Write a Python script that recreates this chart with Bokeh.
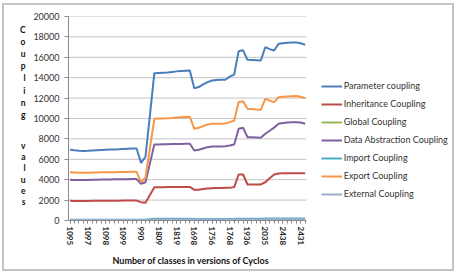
import math
from bokeh.plotting import figure
from bokeh.models import (Range1d, FixedTicker, Legend, LegendItem, LinearAxis,
                          Title)
from bokeh.embed import file_html
from bokeh.resources import INLINE

# ---------------- data ----------------
tick_labels = ["1095", "1097", "1098", "1099", "990", "1809", "1819",
               "1698", "1756", "1768", "1936", "2035", "2438", "2431"]
label_every = 4
n_versions = 54
y_ticks = list(range(0, 20001, 2000))

parameter = [6930, 6880, 6840, 6810, 6830, 6860, 6890, 6910, 6930, 6950,
             6960, 6980, 7010, 7040, 7060, 7060, 5650, 6250, 10300, 14440,
             14460, 14480, 14500, 14560, 14620, 14650, 14680, 14700, 12970, 13080,
             13350, 13560, 13730, 13780, 13790, 13800, 14100, 14300, 16600, 16700,
             15750, 15730, 15710, 15690, 16990, 16800, 16670, 17320, 17380, 17420,
             17450, 17450, 17380, 17230]
inheritance = [1930, 1920, 1910, 1910, 1920, 1930, 1930, 1930, 1940, 1940,
               1940, 1940, 1950, 1950, 1950, 1950, 1800, 1740, 2500, 3270,
               3270, 3270, 3275, 3280, 3280, 3285, 3290, 3290, 3010, 3010,
               3080, 3140, 3170, 3180, 3190, 3200, 3200, 3280, 4510, 4510,
               3530, 3530, 3530, 3540, 3750, 4150, 4510, 4600, 4640, 4640,
               4640, 4640, 4640, 4640]
global_c = [30, 30, 30, 30, 30, 30, 30, 30, 30, 30,
            30, 30, 30, 30, 30, 30, 25, 25, 40, 50,
            50, 50, 50, 50, 50, 50, 50, 50, 50, 50,
            50, 50, 50, 50, 50, 50, 50, 50, 55, 55,
            55, 55, 55, 55, 55, 55, 55, 60, 60, 60,
            60, 60, 60, 60]
data_abstraction = [3990, 3980, 3970, 3960, 3970, 3990, 4000, 4010, 4020, 4030,
                    4040, 4040, 4050, 4050, 4060, 4060, 3600, 3750, 5600, 7450,
                    7460, 7470, 7480, 7490, 7500, 7510, 7520, 7520, 6860, 6930,
                    7060, 7190, 7250, 7250, 7250, 7270, 7350, 7450, 8990, 9090,
                    8170, 8150, 8130, 8110, 8500, 8800, 9100, 9480, 9560, 9600,
                    9640, 9640, 9600, 9480]
import_c = [80, 80, 80, 80, 80, 80, 80, 80, 80, 80,
            80, 80, 80, 80, 80, 80, 70, 75, 120, 160,
            160, 160, 160, 160, 160, 160, 160, 160, 150, 150,
            150, 155, 155, 155, 155, 155, 155, 160, 180, 180,
            175, 175, 175, 175, 185, 190, 195, 200, 200, 200,
            200, 200, 200, 200]
export_c = [4720, 4700, 4680, 4670, 4680, 4700, 4710, 4720, 4730, 4740,
            4740, 4750, 4760, 4760, 4770, 4770, 3760, 4190, 7100, 9970,
            9990, 10010, 10030, 10060, 10100, 10130, 10150, 10170, 8990, 9090,
            9250, 9410, 9480, 9480, 9490, 9500, 9640, 9800, 11600, 11700,
            10950, 10920, 10880, 10850, 11930, 11750, 11600, 12090, 12130, 12160,
            12190, 12200, 12130, 11990]
external = [40, 40, 40, 40, 40, 40, 40, 40, 40, 40,
            40, 40, 40, 40, 40, 40, 35, 35, 70, 100,
            100, 100, 100, 100, 100, 100, 100, 100, 95, 95,
            95, 95, 95, 95, 95, 95, 95, 100, 110, 110,
            105, 105, 105, 105, 110, 115, 120, 125, 125, 125,
            125, 125, 125, 125]

series_names = ["Parameter coupling", "Inheritance Coupling", "Global Coupling",
                "Data Abstraction Coupling", "Import Coupling", "Export Coupling",
                "External Coupling"]
series_values = [parameter, inheritance, global_c, data_abstraction,
                 import_c, export_c, external]
series_colors = ["#4A7EBB", "#BE4B48", "#98B954", "#7D60A0",
                 "#4BACC6", "#F79646", "#9AAFD0"]

x_title = "Number of classes in versions of Cyclos"
y_title_words = ["Coupling", "values"]

# ---------------- figure ----------------
FONT = "Lato"
xs = list(range(n_versions))

OX, OY = 4, 5                       # canvas origin inside the bordered box
W, H = 452, 268
FL, FT, FB = 68 - OX, 16 - OY, 220 - OY   # frame edges (canvas px)
AXR = 306 - OX                             # right end of the data area
X0, X1 = -0.35, 53.3                       # data span of the plotting area
XE = X0 + (W - FL) * (X1 - X0) / (AXR - FL)  # frame extends under the legend
Y0, Y1 = 0, 20000

p = figure(width=W, height=H, output_backend="svg", toolbar_location=None,
           x_range=Range1d(X0, XE), y_range=Range1d(Y0, Y1),
           min_border_left=FL, min_border_right=0, min_border_top=FT,
           min_border_bottom=H - FB)
p.outline_line_color = None
p.background_fill_color = "white"
p.border_fill_color = "white"
p.styles = {"border": "2px solid #c4c4c4", "margin": "3px 0px 0px 2px"}


def px_y(wy):
    """window pixel row -> data y"""
    return Y0 + (FB - (wy - OY)) * (Y1 - Y0) / (FB - FT)


# horizontal grid lines, limited to the data area
p.segment(x0=[X0] * len(y_ticks), x1=[X1] * len(y_ticks), y0=y_ticks, y1=y_ticks,
          line_color="#c4c4c4", line_width=1)
p.xgrid.visible = False
p.ygrid.visible = False

# x axis
xa = p.xaxis[0]
xa.bounds = (X0, X1)
xa.ticker = FixedTicker(ticks=list(range(0, n_versions, label_every)),
                        minor_ticks=xs)
xa.major_label_overrides = {i * label_every: t for i, t in enumerate(tick_labels)}
xa.major_label_orientation = -math.pi / 2
xa.major_label_text_font = FONT
xa.major_label_text_font_style = "bold"
xa.major_label_text_font_size = "8px"
xa.major_label_text_color = "#222222"
xa.major_label_standoff = 3
xa.major_tick_out = 3
xa.major_tick_in = 0
xa.minor_tick_out = 3
xa.minor_tick_in = 0
xa.axis_line_color = "#8a8a8a"
xa.major_tick_line_color = "#8a8a8a"
xa.minor_tick_line_color = "#8a8a8a"

# x axis title, centred under the data area (not under the legend)
p.add_layout(Title(text=x_title, align="left", offset=44, vertical_align="top",
                   standoff=12, text_font=FONT, text_font_style="bold",
                   text_font_size="9px", text_color="#111111"), "below")

# y axis
ya = p.yaxis[0]
ya.ticker = FixedTicker(ticks=y_ticks, minor_ticks=[])
ya.major_label_text_font = FONT
ya.major_label_text_font_size = "9px"
ya.major_label_text_color = "#333333"
ya.major_label_standoff = 5
ya.major_tick_out = 4
ya.major_tick_in = 0
ya.minor_tick_line_color = None
ya.axis_line_color = "#8a8a8a"
ya.major_tick_line_color = "#8a8a8a"

# stacked vertical y title drawn as letters of an extra (line-less) left axis
word_starts = [29.5, 145.2]
word_steps = [12.1, 11.3]
letter_ticks, letter_map = [], {}
for word, y0, step in zip(y_title_words, word_starts, word_steps):
    for k, ch in enumerate(word):
        yv = round(px_y(y0 + k * step), 3)
        letter_ticks.append(yv)
        letter_map[yv] = ch
title_axis = LinearAxis(ticker=FixedTicker(ticks=letter_ticks, minor_ticks=[]),
                        major_label_overrides=letter_map)
title_axis.axis_line_color = None
title_axis.major_tick_line_color = None
title_axis.minor_tick_line_color = None
title_axis.major_tick_out = 0
title_axis.major_tick_in = 0
title_axis.major_label_standoff = 5
title_axis.major_label_text_font = FONT
title_axis.major_label_text_font_style = "bold"
title_axis.major_label_text_font_size = "8.5px"
title_axis.major_label_text_color = "#111111"
p.add_layout(title_axis, "left")

# lines
items = []
for name, vals, col in zip(series_names, series_values, series_colors):
    r = p.line(xs, vals, line_color=col, line_width=2)
    items.append(LegendItem(label=name, renderers=[r]))

legend = Legend(items=items, location=(320.7 - OX - FL, FB - (200.5 - OY)),
                orientation="vertical")
legend.border_line_alpha = 0
legend.background_fill_alpha = 0
legend.padding = 0
legend.margin = 0
legend.spacing = 4
legend.glyph_width = 21
legend.glyph_height = 14
legend.label_height = 14
legend.label_standoff = 2
legend.label_text_font = FONT
legend.label_text_font_size = "9px"
legend.label_text_color = "#333333"
p.add_layout(legend)

open("out.html", "w").write(file_html(p, INLINE))
